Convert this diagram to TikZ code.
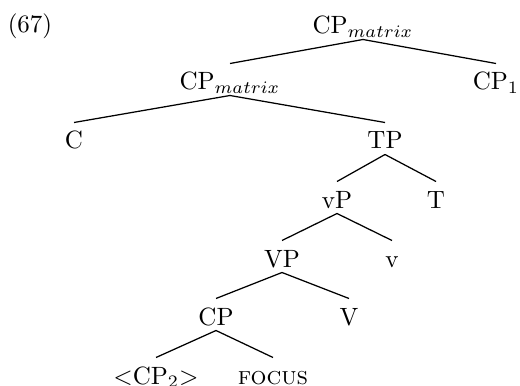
\documentclass[tikz,border=0pt]{standalone}
\begin{document}
\begin{tikzpicture}[x=0.4pt,y=-0.4pt,
  tn/.style={anchor=base,inner xsep=1pt,inner ysep=2pt,text height=8.4pt,text depth=0pt},
  br/.style={line width=0.5pt}]
\useasboundingbox (0,0) rectangle (520,386);
\node[anchor=base,inner sep=0pt] (ex) at (30,33) {(67)};
\node[tn] (root) at (363,34) {CP$_{matrix}$};
\node[tn] (cpm) at (230,90) {CP$_{matrix}$};
\node[tn] (cp1) at (496,90) {CP$_1$};
\node[tn] (c) at (74,149) {C};
\node[tn] (tp) at (385,149) {TP};
\node[tn] (vp) at (337,208) {vP};
\node[tn] (t) at (436,208) {T};
\node[tn] (bigvp) at (282,267) {VP};
\node[tn] (v) at (392,267) {v};
\node[tn] (cp) at (216,325) {CP};
\node[tn] (bigv) at (349,325) {V};
\node[tn] (cp2) at (156,384) {$<$CP$_2$$>$};
\node[tn] (foc) at (273,384) {\textsc{focus}};
\draw[br] (root.south) -- (cpm.north);
\draw[br] (root.south) -- (cp1.north);
\draw[br] (cpm.south) -- (c.north);
\draw[br] (cpm.south) -- (tp.north);
\draw[br] (tp.south) -- (vp.north);
\draw[br] (tp.south) -- (t.north);
\draw[br] (vp.south) -- (bigvp.north);
\draw[br] (vp.south) -- (v.north);
\draw[br] (bigvp.south) -- (cp.north);
\draw[br] (bigvp.south) -- (bigv.north);
\draw[br] (cp.south) -- (cp2.north);
\draw[br] (cp.south) -- (foc.north);
\end{tikzpicture}
\end{document}
